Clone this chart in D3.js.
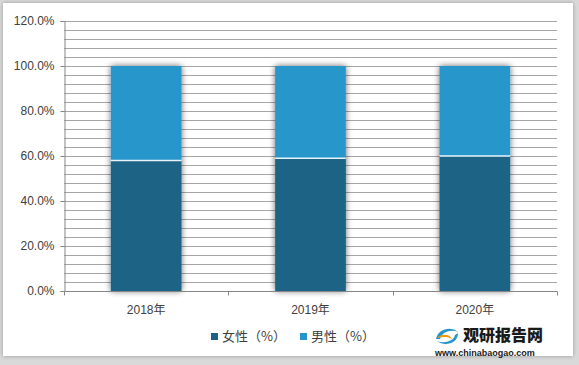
<!DOCTYPE html>
<html><head><meta charset="utf-8">
<script src="https://cdn.jsdelivr.net/npm/d3@7"></script>
<style>
html,body{margin:0;padding:0;background:#fff;}
svg{display:block;font-family:"Liberation Sans","Noto Sans CJK SC",sans-serif;}
</style></head>
<body>
<svg id="chart" width="579" height="365"></svg>
<script>
const categories = ["2018年", "2019年", "2020年"];
const female = [58, 59, 60];
const male = [42, 41, 40];
const seriesNames = ["女性（%）", "男性（%）"];
const yTicks = [0, 20, 40, 60, 80, 100, 120];
const colors = ["#1b6386", "#2596cb"];

(function(){
const svg = d3.select("#chart");
const W = 579, H = 365;

const defs = svg.append("defs");
const f = defs.append("filter").attr("id","sh").attr("x","-30%").attr("y","-10%").attr("width","160%").attr("height","120%");
f.append("feGaussianBlur").attr("in","SourceAlpha").attr("stdDeviation",3).attr("result","b");
f.append("feComponentTransfer").attr("in","b").attr("result","o2").append("feFuncA").attr("type","linear").attr("slope",0.6);
const m = f.append("feMerge"); m.append("feMergeNode").attr("in","o2"); m.append("feMergeNode").attr("in","SourceGraphic");

const fr = defs.append("filter").attr("id","frame").attr("x","-5%").attr("y","-5%").attr("width","110%").attr("height","110%");
fr.append("feGaussianBlur").attr("in","SourceAlpha").attr("stdDeviation",2).attr("result","b");
fr.append("feComponentTransfer").attr("in","b").attr("result","b2").append("feFuncA").attr("type","linear").attr("slope",0.3);
const fm = fr.append("feMerge"); fm.append("feMergeNode").attr("in","b2"); fm.append("feMergeNode").attr("in","SourceGraphic");

svg.append("rect").attr("width",W).attr("height",H).attr("fill","#d9d9d9");
svg.append("rect").attr("x",3).attr("y",3).attr("width",570).attr("height",353).attr("fill","#fff").attr("filter","url(#frame)");

const pl = 64, pr = 557, pt = 21, pb = 291;
const x = d3.scaleBand().domain(categories).range([pl, pr]).paddingInner(0.57).paddingOuter(0.285);
const y = d3.scaleLinear().domain([0, 120]).range([pb, pt]);

const grid = d3.range(4, 121, 4);
svg.append("g").selectAll("line").data(grid).join("line")
  .attr("x1", pl).attr("x2", pr)
  .attr("y1", d => Math.round(y(d)) + 0.5).attr("y2", d => Math.round(y(d)) + 0.5)
  .attr("stroke", "#a6a6a6").attr("stroke-width", 1);

const stacked = categories.map((c, i) => ({c, f: female[i], m: male[i]}));
const bg = svg.append("g");
const barG = bg.selectAll("g").data(stacked).join("g").attr("filter","url(#sh)");
barG.append("rect").attr("x", d => x(d.c)).attr("width", x.bandwidth())
  .attr("y", d => y(d.f + d.m)).attr("height", d => y(d.f) - y(d.f + d.m))
  .attr("fill", colors[1]);
barG.append("rect").attr("x", d => x(d.c)).attr("width", x.bandwidth())
  .attr("y", d => y(d.f)).attr("height", d => y(0) - y(d.f))
  .attr("fill", colors[0]);
barG.append("line").attr("x1", d => x(d.c)).attr("x2", d => x(d.c) + x.bandwidth())
  .attr("y1", d => y(d.f)).attr("y2", d => y(d.f))
  .attr("stroke", "#e8f4fa").attr("stroke-width", 1.5);

const yAxis = d3.axisLeft(y).tickValues(yTicks).tickSize(4).tickPadding(6).tickFormat(d => d.toFixed(1) + "%");
const ya = svg.append("g").attr("transform", `translate(${pl + 0.5},0)`).call(yAxis);
ya.select(".domain").attr("stroke", "#868686");
ya.selectAll(".tick line").attr("stroke", "#868686");
ya.selectAll(".tick text").attr("fill", "#404040").style("font-size", "12px");

const xa = svg.append("g").attr("transform", `translate(0,${pb + 0.5})`);
xa.append("line").attr("x1", pl).attr("x2", pr).attr("stroke", "#868686");
const bounds = [pl, pl + (pr-pl)/3, pl + 2*(pr-pl)/3, pr];
xa.selectAll("line.t").data(bounds).join("line").attr("class","t")
  .attr("x1", d => Math.round(d) + 0.5).attr("x2", d => Math.round(d) + 0.5).attr("y1", 0).attr("y2", 4).attr("stroke", "#868686");
xa.selectAll("text").data(categories).join("text")
  .attr("x", d => x(d) + x.bandwidth()/2).attr("y", 22)
  .attr("text-anchor", "middle").attr("fill", "#404040").style("font-size", "12px").text(d => d);

const lg = svg.append("g");
const lx = [211, 300];
seriesNames.forEach((n, i) => {
  lg.append("rect").attr("x", lx[i]).attr("y", 333).attr("width", 7).attr("height", 7).attr("fill", colors[i]);
  lg.append("text").attr("x", lx[i] + 11).attr("y", 341).attr("fill", "#404040").style("font-size", "13px")
    .style("font-family", "'Noto Sans CJK SC',sans-serif").text(n);
});

const logo = svg.append("g");
logo.append("path").attr("d", "M436,339 C438,328 452,326 458,332 C452,329 442,331 440,339 Z").attr("fill", "#2596cb");
logo.append("path").attr("d", "M437,338 C442,333 450,334 452,339 C447,336 442,337 437,338 Z").attr("fill", "#f39800");
logo.append("path").attr("d", "M458,333 C458,344 444,347 437,341 C444,344 454,341 455,335 Z").attr("fill", "#2596cb");
logo.append("text").attr("x", 463).attr("y", 341).style("font-family", "'Noto Sans CJK SC',sans-serif")
  .style("font-weight", "900").style("font-size", "16px").attr("fill", "#1a1a1a").text("观研报告网");
logo.append("text").attr("x", 435).attr("y", 356).style("font-family", "'Liberation Sans',sans-serif")
  .style("font-weight", "bold").style("font-size", "9px").attr("fill", "#1a1a1a").text("www.chinabaogao.com");
})();
</script>
</body></html>
